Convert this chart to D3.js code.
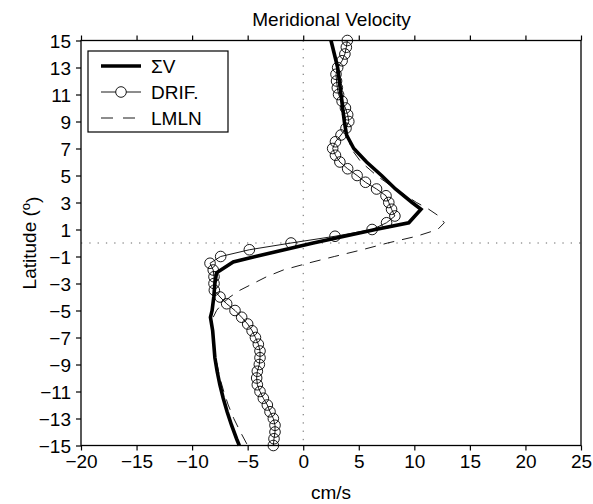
<!DOCTYPE html>
<html>
<head>
<meta charset="utf-8">
<script src="https://cdn.jsdelivr.net/npm/d3@7"></script>
<style>
  body { margin: 0; background: #fff; }
  text { font-family: "Liberation Sans", Arial, sans-serif; fill: #000; }
</style>
</head>
<body>
<div id="container"></div>
<script>
// sum of components (thick line)
const sigLat = [15,14,13,12,11,10,9,8,7,6,5,4,3,2.5,1.5,1,0.5,0,-0.5,-1,-1.4,-2.2,-3,-4,-5,-5.5,-6.5,-7.5,-8.5,-9.5,-10.5,-11.5,-12.5,-13.5,-14.5,-15];
const sigV = [2.5,2.8,3.1,3.25,3.4,3.55,3.7,3.9,4.55,5.7,7.05,8.3,9.8,10.6,9.5,6.5,3.7,0.9,-1.7,-4.3,-6.3,-7.8,-7.95,-8.05,-8.2,-8.35,-8.15,-8.05,-7.95,-7.75,-7.5,-7.2,-6.85,-6.45,-6.0,-5.75];

// drifters (circles)
const drifLat = [15,14.5,14,13.5,13,12.5,12,11.5,11,10.5,10,9.5,9,8.5,8,7.5,7,6.5,6,5.5,5,4.5,4,3.5,3,2.5,2,1.5,1,0.5,0,-0.5,-1,-1.5,-2,-2.5,-3,-3.5,-4,-4.5,-5,-5.5,-6,-6.5,-7,-7.5,-8,-8.5,-9,-9.5,-10,-10.5,-11,-11.5,-12,-12.5,-13,-13.5,-14,-14.5,-15];
const drifV = [3.97,3.88,3.75,3.5,3.1,2.95,3.0,3.07,3.18,3.5,3.8,4.0,4.1,3.85,3.4,2.9,2.65,2.9,3.3,4.0,4.85,5.6,6.6,7.45,7.7,7.95,8.25,7.5,6.2,2.86,-1.1,-4.85,-7.43,-8.39,-8.1,-8.03,-8.03,-8.0,-7.49,-6.89,-6.14,-5.54,-5.0,-4.6,-4.3,-4.04,-3.89,-3.89,-3.95,-4.13,-4.19,-4.13,-3.89,-3.59,-3.23,-2.99,-2.69,-2.54,-2.54,-2.63,-2.69];

// LMLN (dashed)
const lmlnLat = [15,13,11,9,8,7,6,5,4,3,2.5,2,1.5,1,0.5,0,-0.5,-1,-1.5,-2,-2.5,-3,-3.5,-4,-4.5,-5,-5.5,-6,-7,-8,-9,-10,-11,-12,-13,-14,-15];
const lmlnV = [2.5,3.1,3.5,3.8,4.0,4.3,5.2,6.6,8.3,10.2,11.3,12.2,12.7,12.1,10.2,7.6,5.3,2.8,0.4,-1.8,-3.3,-4.5,-5.7,-6.6,-7.3,-7.8,-8.1,-8.2,-8.1,-8.0,-7.75,-7.5,-7.15,-6.75,-6.25,-5.65,-5.0];

const xTicks = [-20,-15,-10,-5,0,5,10,15,20,25];
const yTicks = [-15,-13,-11,-9,-7,-5,-3,-1,1,3,5,7,9,11,13,15];
const legendNames = ["\u03A3V", "DRIF.", "LMLN"];

const W = 593, H = 504;
const margin = {top: 40.5, right: 12, bottom: 58.5, left: 81};
const width = W - margin.left - margin.right;
const height = H - margin.top - margin.bottom;

const svg = d3.select("#container")
  .append("svg")
  .attr("width", W)
  .attr("height", H);

svg.append("rect").attr("width", W).attr("height", H).attr("fill", "#fff");

const g = svg.append("g")
  .attr("transform", "translate(" + margin.left + "," + margin.top + ")");

/* SCALES */
const xScale = d3.scaleLinear().domain([-20, 25]).range([0, width]);
const yScale = d3.scaleLinear().domain([-15, 15]).range([height, 0]);

// zero reference lines (dotted)
g.append("line")
  .attr("x1", xScale(0)).attr("x2", xScale(0))
  .attr("y1", 0).attr("y2", height)
  .attr("stroke", "#666").attr("stroke-width", 1)
  .attr("stroke-dasharray", "1.3,7");
g.append("line")
  .attr("x1", 0).attr("x2", width)
  .attr("y1", yScale(0)).attr("y2", yScale(0))
  .attr("stroke", "#666").attr("stroke-width", 1)
  .attr("stroke-dasharray", "1.3,7");

/* AXES */
const xAxis = d3.axisBottom(xScale).tickValues(xTicks).tickSizeInner(5).tickSizeOuter(0).tickPadding(4);
const xTop = d3.axisTop(xScale).tickValues(xTicks).tickSizeInner(5).tickSizeOuter(0).tickFormat("");
const yAxis = d3.axisLeft(yScale).tickValues(yTicks).tickSizeInner(5).tickSizeOuter(0).tickPadding(5);

const gx = g.append("g").attr("transform", "translate(0," + height + ")").call(xAxis);
const gt = g.append("g").call(xTop);
const gy = g.append("g").call(yAxis);
[gx, gt, gy].forEach(a => {
  a.select(".domain").remove();
  a.selectAll(".tick line").attr("stroke", "#000").attr("stroke-width", 1.2);
  a.selectAll("text").style("font-size", "19px").attr("fill", "#000");
});
gx.selectAll("text").attr("dy", "0.71em");
gy.selectAll("text").attr("dy", "0.36em");

// box
g.append("rect")
  .attr("width", width).attr("height", height)
  .attr("fill", "none").attr("stroke", "#000").attr("stroke-width", 1.3);

/* LINES */
const line = d3.line().x(d => xScale(d[0])).y(d => yScale(d[1]));

const lmlnData = lmlnLat.map((lat, i) => [lmlnV[i], lat]);
const drifData = drifLat.map((lat, i) => [drifV[i], lat]);
const sigData = sigLat.map((lat, i) => [sigV[i], lat]);

g.append("path").datum(lmlnData)
  .attr("d", line).attr("fill", "none")
  .attr("stroke", "#000").attr("stroke-width", 0.9)
  .attr("stroke-dasharray", "11,8");

g.append("path").datum(drifData)
  .attr("d", line).attr("fill", "none")
  .attr("stroke", "#000").attr("stroke-width", 0.9);

g.append("g").selectAll("circle")
  .data(drifData)
  .enter()
  .append("circle")
  .attr("cx", d => xScale(d[0]))
  .attr("cy", d => yScale(d[1]))
  .attr("r", 5.3)
  .attr("fill", "none")
  .attr("stroke", "#000").attr("stroke-width", 0.9);

g.append("path").datum(sigData)
  .attr("d", line).attr("fill", "none")
  .attr("stroke", "#000").attr("stroke-width", 3.6)
  .attr("stroke-linejoin", "miter");

/* LEGEND */
const leg = svg.append("g").attr("transform", "translate(88,51)");
leg.append("rect").attr("width", 140).attr("height", 81)
  .attr("fill", "#fff").attr("stroke", "#000").attr("stroke-width", 1.2);
const legY = [15, 41, 67];
legendNames.forEach((name, i) => {
  const yy = legY[i];
  const l = leg.append("line")
    .attr("x1", 13).attr("x2", 53).attr("y1", yy).attr("y2", yy)
    .attr("stroke", "#000");
  if (i === 0) l.attr("stroke-width", 3.6);
  if (i === 1) {
    l.attr("stroke-width", 0.9);
    leg.append("circle").attr("cx", 33).attr("cy", yy).attr("r", 5.3)
      .attr("fill", "#fff").attr("stroke", "#000").attr("stroke-width", 0.9);
  }
  if (i === 2) l.attr("stroke-width", 0.9).attr("stroke-dasharray", "12,10");
  leg.append("text")
    .attr("x", 63).attr("y", yy).attr("dy", "0.36em")
    .style("font-size", "19px")
    .text(name);
});

/* LABELS */
svg.append("text")
  .attr("x", 331.5).attr("y", 26)
  .attr("text-anchor", "middle")
  .style("font-size", "19px")
  .text("Meridional Velocity");

svg.append("text")
  .attr("x", 331).attr("y", 499)
  .attr("text-anchor", "middle")
  .style("font-size", "19px")
  .text("cm/s");

const yl = svg.append("text")
  .attr("transform", "translate(36,243) rotate(-90)")
  .attr("text-anchor", "middle")
  .style("font-size", "19px");
yl.append("tspan").text("Latitude (");
yl.append("tspan").attr("dy", "-0.45em").style("font-size", "13px").text("o");
yl.append("tspan").attr("dy", "0.45em").text(")");
</script>
</body>
</html>
